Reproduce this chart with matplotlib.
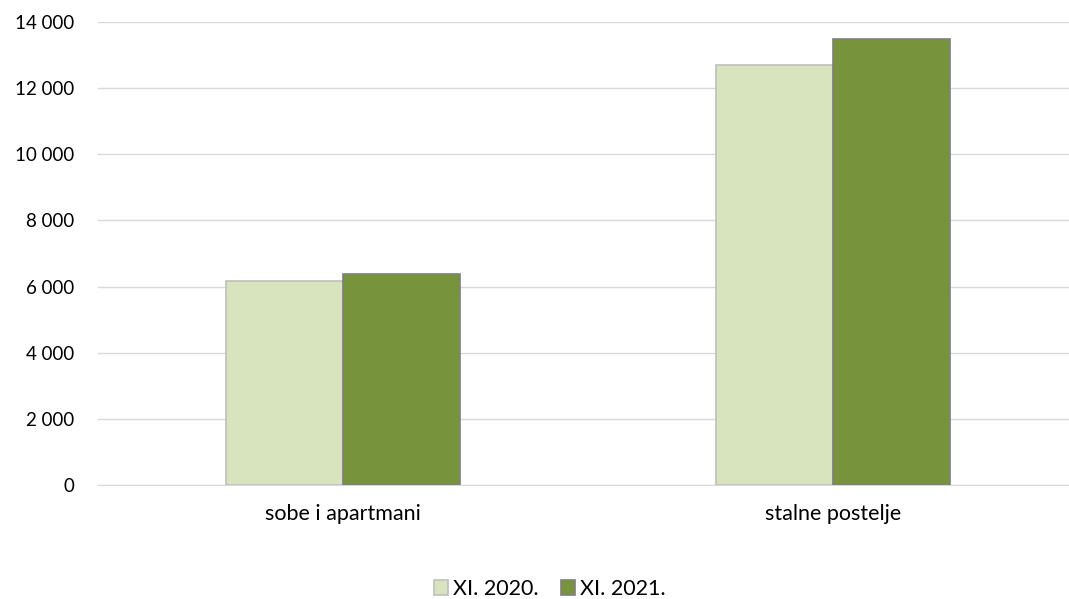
import matplotlib
matplotlib.use("Agg")
import matplotlib.pyplot as plt
import numpy as np
from matplotlib.ticker import FuncFormatter

categories = ["sobe i apartmani", "stalne postelje"]
series_names = ["XI. 2020.", "XI. 2021."]
vals_2020 = [6170, 12710]
vals_2021 = [6390, 13500]

plt.rcParams['font.family'] = ['Lato', 'DejaVu Sans']

fig = plt.figure(figsize=(10.69, 5.99), dpi=100)
# plot area runs a little past the right edge, like the original export
ax = fig.add_axes([98/1069, 1 - 485/599, 980/1069, 463/599])

x = np.arange(len(categories))
w = 0.239
ax.bar(x - w/2, vals_2020, w, color='#D7E4BD', edgecolor='#BFBFBF', linewidth=1.2,
       label=series_names[0], zorder=3)
ax.bar(x + w/2, vals_2021, w, color='#77933C', edgecolor='#7F7F7F', linewidth=1.2,
       label=series_names[1], zorder=3)

ax.set_xlim(-0.5, 1.5)
ax.set_ylim(0, 14000)
ax.set_yticks(np.arange(0, 14001, 2000))
ax.yaxis.set_major_formatter(FuncFormatter(lambda v, p: f"{int(v):,}".replace(",", " ")))
ax.set_xticks(x)
ax.set_xticklabels(categories, fontsize=15.5)
ax.grid(axis='y', color='#D9D9D9', linewidth=1, zorder=0)
for s in ['top', 'right', 'left']:
    ax.spines[s].set_visible(False)
ax.spines['bottom'].set_color('#D9D9D9')
ax.tick_params(axis='both', length=0, colors='#000000')
ax.tick_params(axis='y', pad=17, labelsize=13.5)
ax.tick_params(axis='x', pad=14)

ax.legend(loc='center', bbox_to_anchor=(0.461, -0.225), ncol=2, frameon=False,
          fontsize=15.5, handlelength=0.65, handleheight=0.65, handletextpad=0.25,
          columnspacing=1.0)

fig.savefig("out.png", dpi=100)
